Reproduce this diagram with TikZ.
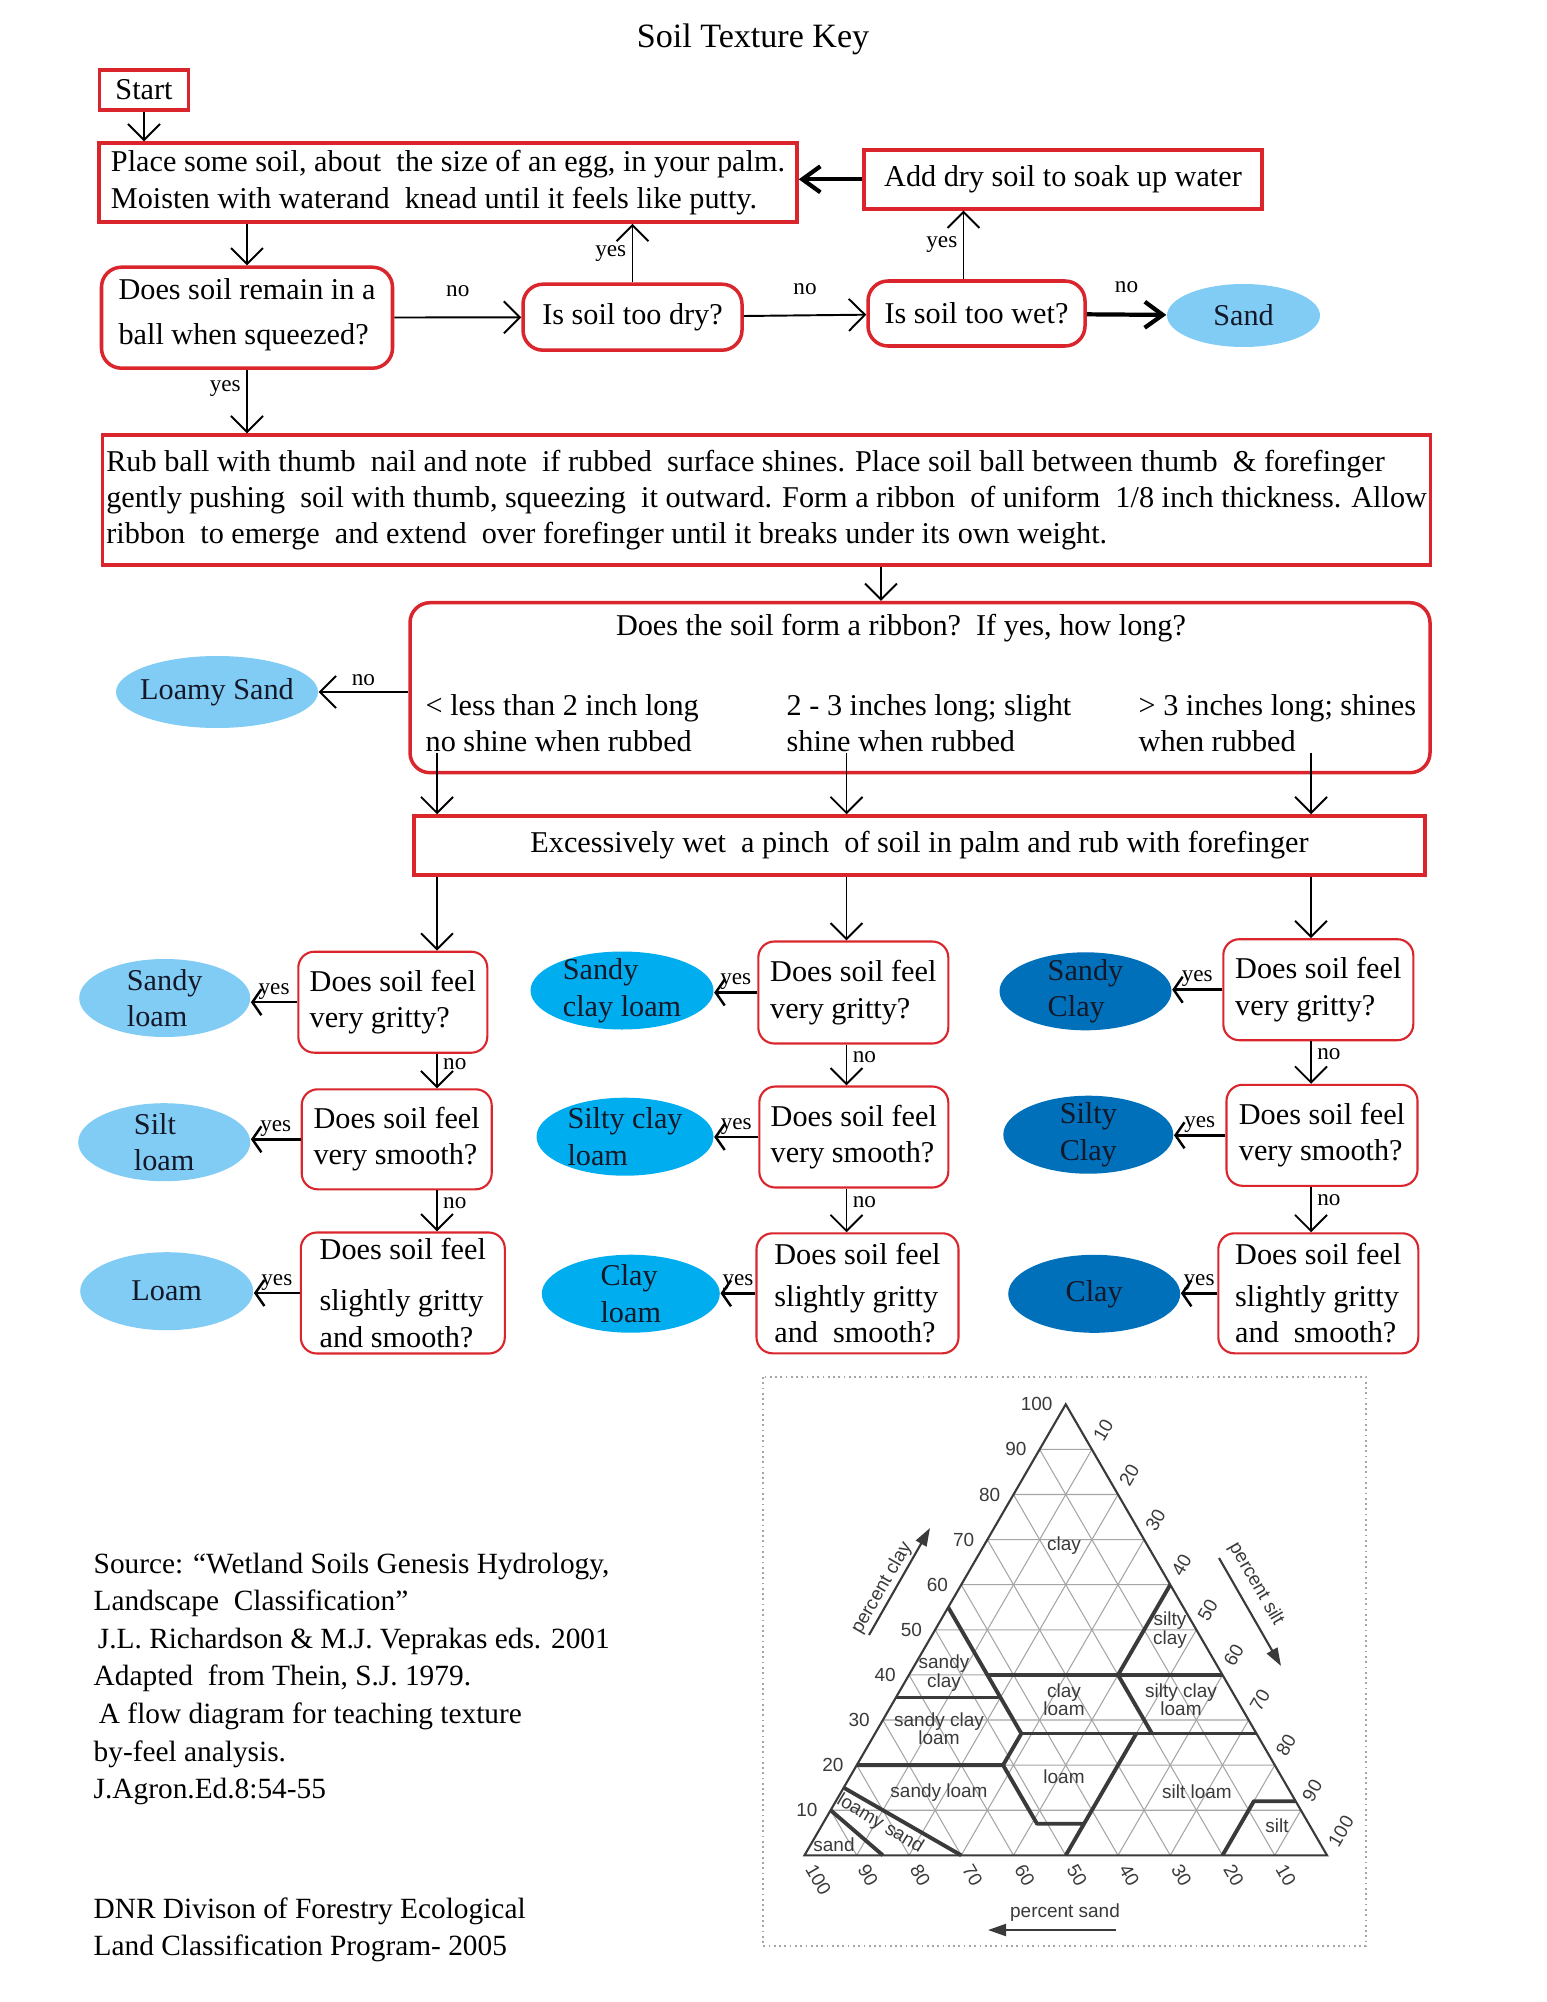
\documentclass[tikz,border=0pt]{standalone}
\usepackage{fontspec}
\setmainfont{Liberation Serif}
\setsansfont{Liberation Sans}
\usetikzlibrary{arrows.meta,shapes.geometric}
\definecolor{KeyRed}{RGB}{218,37,45}
\definecolor{SoilLight}{RGB}{128,204,244}
\definecolor{SoilMid}{RGB}{0,174,239}
\definecolor{SoilDark}{RGB}{0,112,186}
\definecolor{InkNavy}{RGB}{20,24,40}
\definecolor{ChartInk}{RGB}{58,58,58}
\definecolor{ChartGrid}{RGB}{165,165,165}
\newcommand\keyfont{\fontsize{8.6pt}{10.4pt}\selectfont}
\newcommand\tagfont{\fontsize{6.6pt}{7pt}\selectfont}
\newcommand\chartfont{\sffamily\fontsize{5.4pt}{5.2pt}\selectfont}
\newcommand\notefont{\fontsize{8.35pt}{10.7pt}\selectfont}

\begin{document}
\begin{tikzpicture}[
  x=.1mm, y=-.1mm,
  every node/.style={font=\keyfont},
  tag/.style={font=\tagfont, inner sep=1.5pt},
  plain/.style={inner sep=0pt, align=left},
  redbox/.style={draw=KeyRed, line width=1pt, inner sep=0pt, align=left},
  question/.style={redbox, rounded corners=1.6mm, line width=.6pt},
  soil/.style 2 args={ellipse, fill=#1, inner sep=0pt,
    minimum width=17.2mm, minimum height=7.8mm,
    label={[plain, text=InkNavy]center:#2}},
  flow/.style={draw=black, line width=.55pt, -{Straight Barb[length=1.6mm,width=3.2mm]}},
  bold/.style={flow, line width=1.2pt, -{Straight Barb[length=1.8mm,width=2.6mm]}},
  yesflow/.style={draw=black, line width=.7pt, -{Straight Barb[length=.9mm,width=2.6mm]}},
  chartgrid/.style={draw=ChartGrid, line width=.3pt},
  chartedge/.style={draw=ChartInk, line width=.6pt},
  classline/.style={draw=ChartInk, line width=1.1pt, line join=round},
  chartnum/.style={font=\chartfont, text=ChartInk, inner sep=1pt},
  chartlab/.style={font=\chartfont, text=ChartInk, inner sep=0pt, align=center},
  axisarrow/.style={draw=ChartInk, line width=.6pt, -{Triangle[length=1.8mm,width=1.2mm]}}
  ]
  \path[use as bounding box, fill=white] (0,0) rectangle (1547,2002);
  % top of the key
  \node[font=\fontsize{9.7pt}{11pt}\selectfont] (title) at (753,39) {Soil Texture Key};
  \node[redbox, minimum width=8.9mm, minimum height=4mm] (start) at (144,90) {Start};
  \node[redbox, minimum width=69.8mm, minimum height=7.9mm] (place) at (448,182.6)
    {Place some soil, about\ \ the size of an egg, in your palm.\\
     Moisten with waterand\ \ knead until it feels like putty.};
  \node[redbox, minimum width=39.8mm, minimum height=5.9mm] (add) at (1063,179.3)
    {Add dry soil to soak up water};
  \node[question, line width=1pt, rounded corners=2mm, minimum width=29.1mm,
    minimum height=10.1mm] (squeeze) at (247,317.7)
    {Does soil remain in a\\[2.3pt]ball when squeezed?\\[-7pt]\mbox{}};
  \node[question, line width=1pt, rounded corners=2mm, minimum width=21.9mm,
    minimum height=6.6mm] (dry) at (632.5,317.2) {Is soil too dry?};
  \node[question, line width=1pt, rounded corners=2mm, minimum width=21.7mm,
    minimum height=6.5mm] (wet) at (976.5,313.5) {Is soil too wet?};
  \node[soil={SoilLight}{Sand}, minimum width=15.3mm, minimum height=6.3mm] (sand) at (1243.5,315.5) {};
  %
  \draw[flow] (start) -- (start |- place.north);
  \draw[flow] (squeeze.north |- place.south) -- (squeeze);
  \draw[bold] (add) -- (add -| place.east);
  \draw[flow] (squeeze) -- node[tag, above=4pt] {no} (dry);
  \draw[flow] (dry) -- node[tag, above=4pt] {no} (wet);
  \draw[bold] (wet) -- node[tag, above=4pt] {no} (sand);
  \draw[flow] (dry) -- node[tag, left] {yes} (dry |- place.south);
  \draw[flow] ([xshift=-1.3mm]wet.north) -- node[tag, left] {yes} ([xshift=-1.3mm]wet.north |- add.south);
  % ribbon test
  \node[redbox, minimum width=132.8mm, minimum height=12.97mm,
    font=\fontsize{8.6pt}{10.2pt}\selectfont] (rub) at (766.6,499.9)
    {Rub ball with thumb\ \ nail and note\ \ if rubbed\ \ surface shines. Place soil ball between thumb\ \ \& forefinger\\
     gently pushing\ \ soil with thumb, squeezing\ \ it outward. Form a ribbon\ \ of uniform\ \ 1/8 inch thickness. Allow\\
     ribbon\ \ to emerge\ \ and extend\ \ over forefinger until it breaks under its own weight.};
  \draw[flow] (squeeze) -- node[tag, left, pos=.3] {yes} (squeeze |- rub.north);
  \node[redbox, rounded corners=2mm, minimum width=102mm, minimum height=17mm] (ribbon) at (920,687.7) {};
  \node[plain] (ribbonask) at (901,628) {Does the soil form a ribbon?\ \ If yes, how long?};
  \node[plain, anchor=west] (ribbonshort) at (425,723) {< less than 2 inch long\\no shine when rubbed};
  \node[plain, anchor=west] (ribbonmid) at (786,723) {2 - 3 inches long; slight\\shine when rubbed};
  \node[plain, anchor=west] (ribbonlong) at (1138,723) {> 3 inches long; shines\\when rubbed};
  \node[soil={SoilLight}{Loamy Sand}, minimum width=20.2mm, minimum height=7.2mm] (loamysand) at (217,692) {};
  \coordinate (drop) at (881,0);
  \coordinate (colA) at (437,0);
  \coordinate (colB) at (846.5,0);
  \coordinate (colC) at (1311,0);
  \draw[flow] (rub.south -| drop) -- (ribbon.north -| drop);
  \draw[flow] (ribbon.west |- loamysand) -- node[tag, above] {no} (loamysand);
  \node[redbox, minimum width=101.1mm, minimum height=5.9mm, align=center] (excess) at (919.5,845.5)
    {Excessively wet\ \ a pinch\ \ of soil in palm and rub with forefinger};
  \draw[flow] (ribbonshort.south -| colA) -- (excess.north -| colA);
  \draw[flow] (ribbonmid.south -| colB) -- (excess.north -| colB);
  \draw[flow] (ribbonlong.south -| colC) -- (excess.north -| colC);
  % feel questions
  \node[question, minimum width=18.9mm, minimum height=10.1mm] (gritA) at (392.8,1002.2) {Does soil feel\\very gritty?};
  \node[question, minimum width=19mm, minimum height=10mm] (smoothA) at (396.7,1139.3) {Does soil feel\\very smooth?};
  \node[question, minimum width=20.4mm, minimum height=12.1mm] (mixA) at (402.8,1293) {Does soil feel\\[4pt]slightly gritty\\and smooth?};
  \node[question, minimum width=19mm, minimum height=10.2mm] (gritB) at (853.3,992.5) {Does soil feel\\very gritty?};
  \node[question, minimum width=18.9mm, minimum height=10.1mm] (smoothB) at (853.8,1137) {Does soil feel\\very smooth?};
  \node[question, minimum width=20.2mm, minimum height=12mm] (mixB) at (857.5,1293.3) {Does soil feel\\[1.5pt]slightly gritty\\and\ \ smooth?};
  \node[question, minimum width=19mm, minimum height=10.1mm] (gritC) at (1318.3,989.7) {Does soil feel\\very gritty?};
  \node[question, minimum width=19.1mm, minimum height=10.1mm] (smoothC) at (1322,1135.3) {Does soil feel\\very smooth?};
  \node[question, minimum width=20mm, minimum height=12mm] (mixC) at (1318.3,1293.3) {Does soil feel\\[1.5pt]slightly gritty\\and\ \ smooth?};
  % textures
  \node[soil={SoilLight}{Sandy\\loam}, minimum width=17.1mm] (sandyloam) at (164.7,998) {};
  \node[soil={SoilLight}{Silt\\loam}] (siltloam) at (164.2,1142.2) {};
  \node[soil={SoilLight}{Loam}, minimum width=17.3mm] (loam) at (166.7,1291.2) {};
  \node[soil={SoilMid}{Sandy\\clay loam}, minimum width=18.3mm] (sandyclayloam) at (622,990.5) {};
  \node[soil={SoilMid}{Silty clay\\loam}, minimum width=17.7mm] (siltyclayloam) at (625,1136.7) {};
  \node[soil={SoilMid}{Clay\\loam}, minimum width=17.8mm] (clayloam) at (630.8,1293.7) {};
  \node[soil={SoilDark}{Sandy\\Clay}] (sandyclay) at (1085.5,991.3) {};
  \node[soil={SoilDark}{Silty\\Clay}, minimum width=17mm] (siltyclay) at (1088.3,1134.7) {};
  \node[soil={SoilDark}{Clay}] (clay) at (1094.2,1293.8) {};
  \foreach \col in {A,B,C} {
    \draw[flow] (excess.south -| col\col) -- (grit\col.north -| col\col);
    \draw[flow] (grit\col.south -| col\col) -- node[tag, right, pos=.3] {no} (smooth\col.north -| col\col);
    \draw[flow] (smooth\col.south -| col\col) -- node[tag, right, pos=.3] {no} (mix\col.north -| col\col);
  }
  \foreach \q/\r in {gritA/sandyloam, smoothA/siltloam, mixA/loam,
                     gritB/sandyclayloam, smoothB/siltyclayloam, mixB/clayloam,
                     gritC/sandyclay, smoothC/siltyclay, mixC/clay}
    \draw[yesflow] (\q.west) -- node[tag, above=-1pt] {yes} (\q.west -| \r.east);
  % sources
  \node[plain, anchor=north west, font=\notefont] (source) at (93,1552)
    {Source: “Wetland Soils Genesis Hydrology,\\
     Landscape\ \ Classification”\\
     \hspace{1.2pt}J.L. Richardson \& M.J. Veprakas eds. 2001\\
     Adapted\ \ from Thein, S.J. 1979.\\
     \hspace{1.5pt}A flow diagram for teaching texture\\
     by-feel analysis.\\
     J.Agron.Ed.8:54-55};
  \node[plain, anchor=north west, font=\notefont] (dnr) at (93,1897)
    {DNR Divison of Forestry Ecological\\
     Land Classification Program- 2005};
  % texture triangle
  \draw[ChartGrid, densely dotted, line width=.5pt] (763,1377) rectangle (1366,1946);
  \begin{scope}[shift={(804.5,1855.3)}, x={(.5225mm,0mm)}, y={(.26125mm,.451mm)}]
    \foreach \k in {10,20,...,90}
      \draw[chartgrid] (0,\k) -- ({100-\k},\k) (\k,0) -- (\k,{100-\k}) (\k,0) -- (0,\k);
    \draw[chartedge] (0,0) -- (100,0) -- (0,100) -- cycle;
    \draw[classline] (0,10) -- (15,0);
    \draw[classline] (0,15) -- (30,0);
    \draw[classline] (0,20) -- (28,20) -- (41,7) -- (50,7) -- (50,0);
    \draw[classline] (28,20) -- (28,27);
    \draw[classline] (50,7) -- (50,27);
    \draw[classline] (28,27) -- (73,27);
    \draw[classline] (0,35) -- (20,35);
    \draw[classline] (0,55) -- (28,27);
    \draw[classline] (15,40) -- (60,40);
    \draw[classline] (40,60) -- (40,40) -- (53,27);
    \draw[classline] (80,0) -- (80,12) -- (88,12);
    \foreach \k in {10,20,...,100} {
      \node[chartnum, anchor=east, xshift=-.9mm] at (0,\k) {\k};
      \node[chartnum, anchor=west, rotate=60] at (\k,{101.5-\k}) {\k};
      \node[chartnum, anchor=west, rotate=-60] at ({101.5-\k},-1.5) {\k};
    }
  \end{scope}
  \node[chartlab] (lclay) at (1064,1546) {clay};
  \node[chartlab] (lsiltyclay) at (1170,1630) {silty\\clay};
  \node[chartlab] (lsandyclay) at (944,1673) {sandy\\clay};
  \node[chartlab] (lclayloam) at (1064,1700) {clay\\loam};
  \node[chartlab] (lsiltyclayloam) at (1181,1700) {silty clay\\loam};
  \node[chartlab] (lsandyclayloam) at (939,1729) {sandy clay\\loam};
  \node[chartlab] (lsandyloam) at (939,1793) {sandy loam};
  \node[chartlab] (lloam) at (1064,1777) {loam};
  \node[chartlab] (lsiltloam) at (1197,1792) {silt loam};
  \node[chartlab] (lsilt) at (1277,1826) {silt};
  \node[chartlab, rotate=-31] (lloamysand) at (880,1824) {loamy sand};
  \node[chartlab] (lsand) at (834,1845) {sand};
  \coordinate (clayfrom) at (869,1635);
  \coordinate (clayto) at (930,1528);
  \draw[axisarrow] (clayfrom) -- (clayto);
  \node[chartlab, rotate=60] (claytitle) at (882,1588) {percent clay};
  \coordinate (siltfrom) at (1219,1558);
  \coordinate (siltto) at (1281,1666);
  \draw[axisarrow] (siltfrom) -- (siltto);
  \node[chartlab, rotate=-60] (silttitle) at (1256,1584) {percent silt};
  \coordinate (sandfrom) at (1116,1930);
  \coordinate (sandto) at (988,1930);
  \draw[axisarrow] (sandfrom) -- (sandto);
  \node[chartlab] (sandtitle) at (1065,1913) {percent sand};
\end{tikzpicture}
\end{document}
